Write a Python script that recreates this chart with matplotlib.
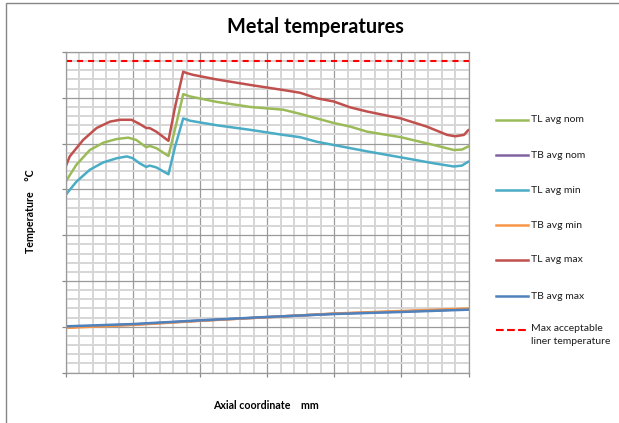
import matplotlib
matplotlib.use("Agg")
import matplotlib.pyplot as plt
from matplotlib.lines import Line2D
from matplotlib.patches import Rectangle
from matplotlib.ticker import MultipleLocator, NullFormatter

plt.rcParams['font.family'] = ['Lato', 'DejaVu Sans']

# ---- data -------------------------------------------------------------
# liner (TL) temperatures along the axial coordinate
x_tl_max = [0, 6, 26, 46, 66, 81, 98, 110, 120, 125, 135, 153, 163, 175, 180, 190,
            225, 275, 324, 349, 374, 399, 424, 449, 499, 538, 568, 580, 593, 600]
t_tl_max = [450, 472, 508, 534, 548, 552, 552, 543, 534, 534, 526, 506, 581, 657, 654, 650,
            640, 628, 617, 611, 599, 592, 579, 570, 555, 537, 519, 516, 519, 530]

x_tl_nom = [0, 16, 36, 56, 76, 93, 105, 120, 125, 135, 153, 165, 175, 185,
            225, 275, 324, 349, 374, 399, 424, 449, 499, 548, 578, 590, 600]
t_tl_nom = [417, 454, 486, 502, 510, 513, 508, 492, 495, 490, 473, 545, 608, 603,
            591, 580, 574, 565, 555, 545, 537, 526, 514, 497, 486, 487, 494]

x_tl_min = [0, 16, 36, 56, 76, 91, 100, 110, 120, 125, 135, 153, 163, 175, 185,
            225, 275, 324, 349, 374, 399, 424, 449, 499, 548, 578, 590, 600]
t_tl_min = [388, 417, 443, 459, 468, 472, 468, 457, 449, 452, 448, 433, 494, 555, 550,
            540, 530, 519, 514, 504, 497, 490, 483, 470, 457, 450, 452, 461]

# bulk (TB) temperatures
x_tb = [0, 100, 200, 300, 400, 500, 600]
t_tb_nom = [99, 105, 113.5, 121, 128.5, 133.5, 138.5]
t_tb_min = [97.5, 104, 113, 121, 129, 134.5, 140]
t_tb_max = [101, 106, 114, 121.5, 128, 132.4, 137.4]

t_limit = 680
x_range = [0, 600]

labels = ["TL avg nom", "TB avg nom", "TL avg min", "TB avg min",
          "TL avg max", "TB avg max", "Max acceptable\nliner temperature"]
colors = ["#9BBB59", "#8064A2", "#4BACC6", "#F79646", "#C0504D", "#4F81BD", "#FF0000"]

# ---- figure -----------------------------------------------------------
W, H = 619, 423
fig = plt.figure(figsize=(W / 100, H / 100), dpi=100)
fig.patch.set_facecolor("white")

# chart-area border
fig.add_artist(Rectangle((5.5 / W, -0.2), 2.0, 1.2 - 3.5 / H,
                         transform=fig.transFigure, fill=False,
                         edgecolor="#868686", linewidth=1.0))

left, right, top, bottom = 65.7, 468.6, 52.0, 372.6
ax = fig.add_axes([left / W, 1 - bottom / H, (right - left) / W, (bottom - top) / H])

ax.set_xlim(0, 600)
ax.set_ylim(0, 700)
ax.xaxis.set_major_locator(MultipleLocator(100))
ax.xaxis.set_minor_locator(MultipleLocator(20))
ax.yaxis.set_major_locator(MultipleLocator(100))
ax.yaxis.set_minor_locator(MultipleLocator(20))
ax.xaxis.set_major_formatter(NullFormatter())
ax.yaxis.set_major_formatter(NullFormatter())

ax.grid(which="minor", color="#D6D6D6", linewidth=1.4)
ax.grid(which="major", color="#9A9A9A", linewidth=0.9)
ax.set_axisbelow(True)
for s in ax.spines.values():
    s.set_color("#9A9A9A")
    s.set_linewidth(0.9)
ax.tick_params(which="major", direction="out", length=3, width=0.9, color="#8A8A8A")
ax.tick_params(which="minor", length=0)

lw = 1.8
series = [
    (x_tl_nom, t_tl_nom),
    (x_tb, t_tb_nom),
    (x_tl_min, t_tl_min),
    (x_tb, t_tb_min),
    (x_tl_max, t_tl_max),
    (x_tb, t_tb_max),
]
lines = []
for (xs, ys), c, lab in zip(series, colors[:6], labels[:6]):
    ln, = ax.plot(xs, ys, color=c, linewidth=lw, label=lab, solid_capstyle="round")
    lines.append(ln)
ln, = ax.plot(x_range, [t_limit, t_limit], color=colors[6], linewidth=1.5,
              dashes=(2.9, 2.4), label=labels[6])
lines.append(ln)

# ---- texts ------------------------------------------------------------
fig.text(315 / W, 1 - 27 / H, "Metal temperatures", ha="center", va="center",
         fontsize=14.3, fontweight="bold", color="black")
fig.text(266 / W, 1 - 405 / H, "Axial coordinate    mm", ha="center", va="center",
         fontsize=7.7, fontweight="bold", color="black")
fig.text(30 / W, 1 - 211 / H, "Temperature    \u00b0C", ha="center", va="center",
         rotation=90, fontsize=7.7, fontweight="bold", color="black")

# ---- legend -----------------------------------------------------------
leg_y = [120, 155, 190, 225, 260, 296, 330]
for ln, lab, yy in zip(lines, labels, leg_y):
    fig.add_artist(Line2D([496 / W, 528 / W], [1 - yy / H, 1 - yy / H],
                          transform=fig.transFigure, color=ln.get_color(),
                          linewidth=ln.get_linewidth(), linestyle=ln.get_linestyle()))
    if "\n" in lab:
        fig.text(531 / W, 1 - (yy - 6) / H, lab, ha="left", va="top",
                 fontsize=7.5, color="#1E1E1E", linespacing=1.55)
    else:
        fig.text(531 / W, 1 - yy / H, lab, ha="left", va="center",
                 fontsize=7.5, color="#1E1E1E")

fig.savefig("out.png", dpi=100)
